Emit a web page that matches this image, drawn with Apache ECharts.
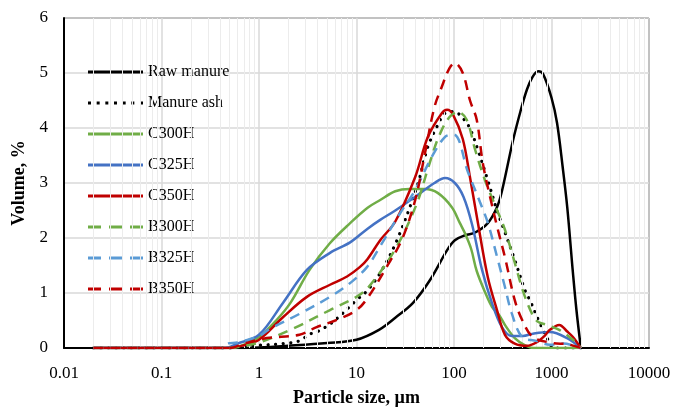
<!DOCTYPE html>
<html>
<head>
<meta charset="utf-8">
<script src="https://cdn.jsdelivr.net/npm/echarts@6/dist/echarts.min.js"></script>
<style>
  html, body { margin: 0; padding: 0; background: #fff; }
  #chart { width: 673px; height: 410px; }
</style>
</head>
<body>
<div id="chart"></div>
<script>
// particle size distribution, [size µm, volume %]
const rawManure = [[0.02,0],[0.5,0],[1,0.01],[2,0.04],[5,0.09],[10,0.15],[17,0.33],[25,0.55],[38,0.82],[57,1.24],[85,1.78],[102,1.96],[130,2.05],[165,2.1],[222,2.27],[276,2.56],[310,2.85],[400,3.75],[480,4.3],[560,4.7],[640,4.93],[730,5.03],[820,4.98],[1000,4.55],[1140,4.09],[1300,3.3],[1450,2.56],[1660,1.36],[1800,0.7],[2000,0]];
const manureAsh = [[0.02,0],[0.5,0],[0.7,0.03],[1,0.05],[1.8,0.08],[2.6,0.13],[3.3,0.25],[4,0.3],[5.5,0.45],[7.3,0.64],[10,0.87],[13,1.05],[18,1.4],[26,1.96],[42,2.95],[54,3.66],[68,4.05],[81,4.27],[100,4.3],[123,4.18],[145,4.0],[176,3.6],[222,3.05],[282,2.45],[318,2.2],[420,1.6],[535,1.05],[600,0.87],[760,0.45],[960,0.09],[1050,0],[2000,0]];
const c300h = [[0.02,0],[0.5,0],[0.7,0.06],[1,0.2],[1.5,0.5],[2.1,0.82],[3.3,1.42],[5.3,1.9],[8.6,2.27],[13,2.55],[17.5,2.69],[25,2.85],[35,2.89],[50,2.89],[68,2.82],[95,2.56],[115,2.27],[130,2.08],[150,1.8],[171,1.4],[210,1.0],[245,0.75],[290,0.6],[333,0.42],[420,0.18],[535,0.05],[650,0],[2000,0]];
const c325h = [[0.02,0],[0.45,0],[0.6,0.08],[1,0.24],[1.76,0.82],[3.1,1.42],[5.35,1.73],[8.6,1.92],[13,2.17],[17.5,2.33],[25,2.5],[40,2.75],[63,3.0],[81,3.09],[102,3.0],[125,2.75],[153,2.25],[194,1.42],[245,0.82],[310,0.38],[390,0.22],[510,0.22],[645,0.26],[960,0.29],[1445,0.18],[2000,0]];
const c350h = [[0.02,0],[0.5,0],[0.7,0.05],[1,0.15],[1.76,0.56],[3.1,0.93],[5.35,1.15],[8,1.3],[10.8,1.47],[13,1.62],[17.5,1.96],[25,2.3],[40,3.11],[54,3.84],[75,4.27],[85,4.33],[98,4.24],[123,3.8],[146,3.1],[171,2.4],[222,1.29],[276,0.69],[333,0.24],[420,0.08],[560,0.04],[700,0.1],[850,0.22],[960,0.33],[1200,0.42],[1450,0.3],[1660,0.2],[2000,0]];
const b300h = [[0.02,0],[0.5,0],[0.7,0.04],[1,0.1],[2.1,0.33],[5.35,0.69],[10,0.93],[13.5,1.12],[25,1.8],[41,2.6],[56,3.35],[70,3.85],[90,4.2],[110,4.29],[135,4.15],[165,3.6],[208,3.05],[276,2.51],[333,2.15],[420,1.55],[535,0.93],[700,0.5],[890,0.42],[1200,0.33],[1660,0.15],[2000,0]];
const b325h = [[0.02,0],[0.4,0],[0.47,0.08],[0.6,0.1],[1,0.22],[1.3,0.35],[2.6,0.62],[5.35,0.93],[8.6,1.18],[12.8,1.47],[17.5,1.85],[28,2.45],[40,2.87],[59,3.47],[81,3.84],[100,3.88],[139,3.2],[185,2.65],[222,2.28],[282,1.6],[333,1.11],[390,0.64],[500,0.2],[700,0.13],[960,0.06],[1320,0.08],[2000,0]];
const b350h = [[0.02,0],[0.5,0],[0.7,0.08],[1.2,0.18],[2.6,0.24],[3.9,0.38],[6.3,0.51],[10,0.69],[13,0.91],[20,1.45],[29,1.96],[40,2.69],[50.5,3.55],[63,4.38],[75,4.75],[90,5.09],[102,5.18],[123,5.0],[146,4.5],[171,4.15],[198,3.35],[245,2.6],[282,2.15],[333,1.65],[420,0.87],[500,0.51],[645,0.2],[1040,0.09],[1445,0.07],[2000,0]];

const seriesNames = ['Raw manure', 'Manure ash', 'C300H', 'C325H', 'C350H', 'B300H', 'B325H', 'B350H'];
const seriesData = [rawManure, manureAsh, c300h, c325h, c350h, b300h, b325h, b350h];
const seriesColors = ['#000000', '#000000', '#70ad47', '#4472c4', '#c00000', '#70ad47', '#5b9bd5', '#c00000'];
const seriesDash = ['solid', 'dotted', 'solid', 'solid', 'solid', 'dashed', 'dashed', 'dashed'];

const xTicks = [0.01, 0.1, 1, 10, 100, 1000, 10000];
const yTicks = [0, 1, 2, 3, 4, 5, 6];

// light minor gridlines at 2..9 of each decade
const minorGrid = [];
for (let d = 0; d < xTicks.length - 1; d++) {
    for (let m = 2; m <= 9; m++) {
        minorGrid.push({ xAxis: +(xTicks[d] * m).toPrecision(3) });
    }
}

// legend samples (55 x 3 box)
const legendIcons = {
    solid: 'path://M0,0h55v3h-55z',
    dashed: 'path://M0,0h13v3h-13z M21,0h13v3h-13z M42,0h13v3h-13z',
    dotted: 'path://M0,0h3v3h-3z M8.67,0h3v3h-3z M17.33,0h3v3h-3z M26,0h3v3h-3z M34.67,0h3v3h-3z M43.33,0h3v3h-3z M52,0h3v3h-3z'
};
const lineDash = { solid: 'solid', dashed: [10, 7], dotted: [0.1, 7.5] };

const FONT = '"Liberation Serif", "Times New Roman", serif';

const chart = echarts.init(document.getElementById('chart'));

const series = [{
    type: 'line',
    data: [],
    silent: true,
    z: 1,
    markLine: {
        silent: true,
        symbol: 'none',
        label: { show: false },
        lineStyle: { color: '#ececec', width: 1, type: 'solid' },
        animation: false,
        data: minorGrid
    }
}];

seriesNames.forEach(function(name, i) {
    const dotted = seriesDash[i] === 'dotted';
    series.push({
        name: name,
        type: 'line',
        data: seriesData[i],
        smooth: 0.35,
        showSymbol: false,
        symbol: 'none',
        z: 3 + i,
        lineStyle: {
            color: seriesColors[i],
            width: dotted ? 3.2 : 2.5,
            type: lineDash[seriesDash[i]],
            cap: dotted ? 'round' : 'butt'
        },
        itemStyle: { color: seriesColors[i] }
    });
});

chart.setOption({
    animation: false,
    backgroundColor: '#fff',
    grid: {
        left: 64, right: 24, top: 18, bottom: 62,
        outerBoundsMode: 'none',
        show: true, borderColor: '#000', borderWidth: 1
    },
    legend: {
        orient: 'vertical',
        left: 83,
        top: 58,
        itemWidth: 55,
        itemHeight: 3,
        itemGap: 13,
        symbolKeepAspect: false,
        itemStyle: { borderWidth: 0 },
        data: seriesNames.map(function(name, i) {
            return { name: name, icon: legendIcons[seriesDash[i]] };
        }),
        textStyle: { fontFamily: FONT, fontSize: 16, color: '#000', lineHeight: 18 }
    },
    xAxis: {
        type: 'log',
        logBase: 10,
        min: xTicks[0],
        max: xTicks[xTicks.length - 1],
        name: 'Particle size, µm',
        nameLocation: 'middle',
        nameGap: 41,
        nameTextStyle: { fontFamily: FONT, fontSize: 18, fontWeight: 'bold', color: '#000' },
        axisLine: { lineStyle: { color: '#000', width: 2 } },
        axisTick: { show: false },
        axisLabel: {
            fontFamily: FONT, fontSize: 17, color: '#000', margin: 17,
            formatter: function(v) { return String(+v.toPrecision(3)); }
        },
        splitLine: { show: true, lineStyle: { color: '#d9d9d9', width: 1.5 } }
    },
    yAxis: {
        type: 'value',
        min: yTicks[0],
        max: yTicks[yTicks.length - 1],
        interval: 1,
        name: 'Volume, %',
        nameLocation: 'middle',
        nameGap: 33,
        nameTextStyle: { fontFamily: FONT, fontSize: 18, fontWeight: 'bold', color: '#000' },
        axisLine: { show: true, lineStyle: { color: '#000', width: 2 } },
        axisTick: { show: false },
        axisLabel: { fontFamily: FONT, fontSize: 17, color: '#000', margin: 16 },
        splitLine: { show: true, lineStyle: { color: '#d9d9d9', width: 1.5 } }
    },
    series: series
});
</script>
</body>
</html>
